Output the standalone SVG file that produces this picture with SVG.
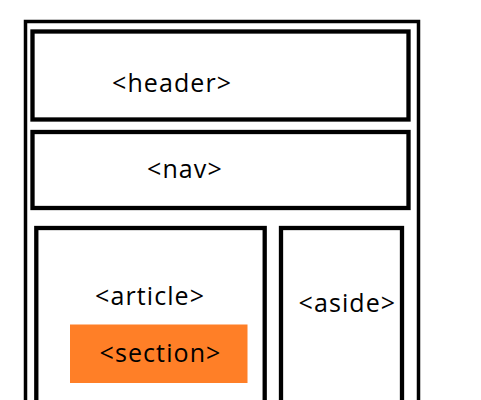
<svg xmlns="http://www.w3.org/2000/svg" width="481" height="400" viewBox="0 0 481 400">
<style>
.box{fill:none;stroke:#000;stroke-width:4.3}
.lbl{font-family:"Open Sans","DejaVu Sans",sans-serif;font-size:25px;letter-spacing:1.1px;fill:#000}
</style>
<rect width="481" height="400" fill="#fff"/>
<g id="page"><rect x="25.5" y="21.5" width="393" height="420" fill="none" stroke="#000" stroke-width="3.5"/></g>
<g id="header"><rect class="box" x="32.5" y="31.5" width="376" height="88"/><text class="lbl" x="112" y="91.5">&lt;header&gt;</text></g>
<g id="nav"><rect class="box" x="32.5" y="132" width="376" height="76"/><text class="lbl" x="147" y="178.3">&lt;nav&gt;</text></g>
<g id="article"><rect class="box" x="36.3" y="228" width="228.4" height="200"/><text class="lbl" x="95" y="305">&lt;article&gt;</text></g>
<g id="section"><rect x="70" y="324.5" width="177.5" height="58.5" fill="#FF7F27"/><text class="lbl" x="99.5" y="361.7">&lt;section&gt;</text></g>
<g id="aside"><rect class="box" x="281" y="228" width="121" height="200"/><text class="lbl" x="298.5" y="311.7">&lt;aside&gt;</text></g>
<g id="connectors"/>
</svg>
